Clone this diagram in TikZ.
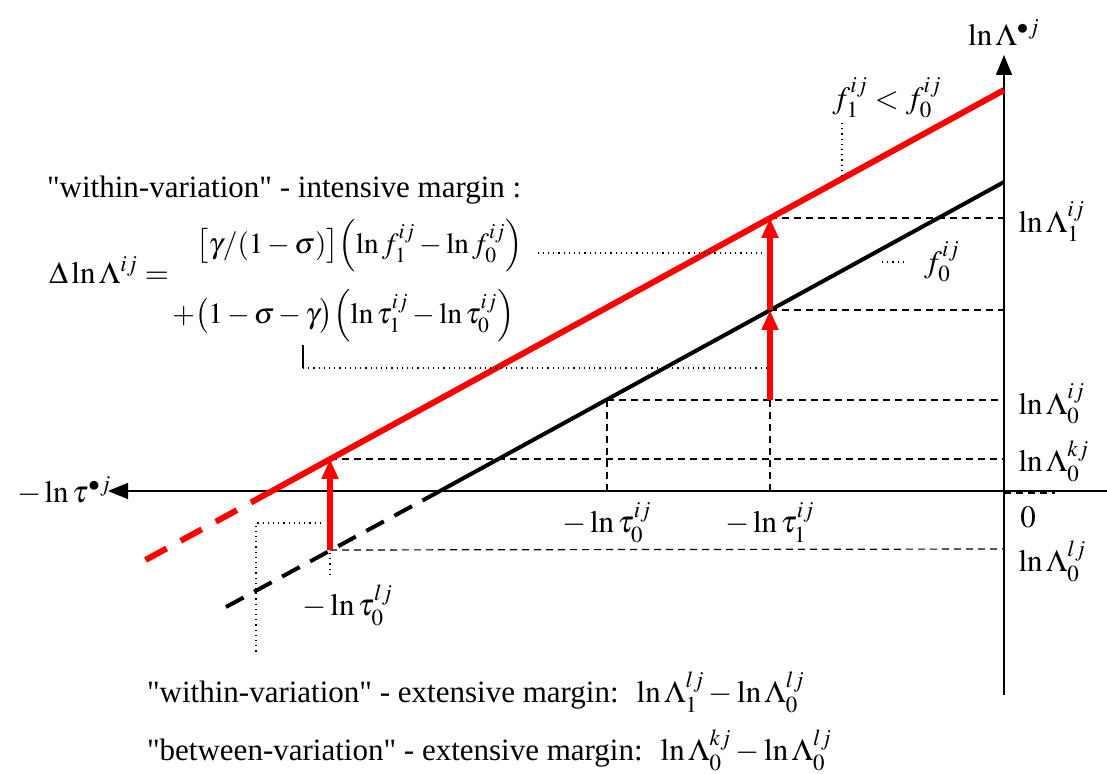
\documentclass[tikz,border=0pt]{standalone}
\usepackage{mathptmx}
\usepackage{fontspec}
\setmainfont{Liberation Serif}
\usetikzlibrary{arrows.meta,positioning}
\tikzset{
  axis/.style={line width=0.8pt,-{Triangle[length=10pt,width=8pt]}},
  redline/.style={red,line width=3pt},
  blackline/.style={black,line width=2pt},
  guide/.style={dash pattern=on 3.6pt off 2.4pt,line width=0.6pt},
  leader/.style={dotted,line width=0.6pt},
  shiftarrow/.style={red,line width=2.6pt,-{Triangle[length=10pt,width=8pt]}},
  lbl/.style={inner sep=1pt},
  term/.style={anchor=west,inner sep=1pt,font=\fontsize{14.6}{17}\selectfont}
}
\newcommand{\qt}[1]{\textquotedbl#1\textquotedbl}
\begin{document}
\begin{tikzpicture}[x=0.5pt,y=-0.5pt,font=\fontsize{15.5}{18}\selectfont]
\useasboundingbox (0,0) rectangle (1107,774);
% points of the two lines
\coordinate (R0) at (1004,90);
\coordinate (R1) at (770,218);
\coordinate (R2) at (330,459);
\coordinate (Rx) at (272,491);
\coordinate (Rend) at (140,563);
\coordinate (B0) at (1004,182);
\coordinate (B1) at (770,310);
\coordinate (B2) at (607,400);
\coordinate (T1) at (770,400);
\coordinate (Bx) at (440,491);
\coordinate (B3) at (330,550);
\coordinate (Bend) at (226,607);
\coordinate (O) at (1004,491);
% axes
\draw[axis] (1004,695) -- (1004,55) node[above=1pt](ylab){$\ln\Lambda^{\bullet j}$};
\draw[axis] (1107,491) -- (108,491) node[left=-3pt,lbl](xlab){$-\ln\tau^{\bullet j}$};
\draw[guide] (1004,493) -- (1055,493);
% guides
\draw[guide] (R1) -- (1004,218) node[right=6pt,lbl,yshift=-2pt](L1ij){$\ln\Lambda_1^{ij}$};
\draw[guide] (B1) -- (1004,310);
\draw[guide] (B2) -- (1004,400) node[right=6pt,lbl,yshift=-2pt](L0ij){$\ln\Lambda_0^{ij}$};
\draw[guide] (R2) -- (1004,459) node[right=6pt,lbl,yshift=-1pt](L0kj){$\ln\Lambda_0^{kj}$};
\draw[guide] (B3) -- (1004,549) node[right=6pt,lbl,yshift=-6pt](L0lj){$\ln\Lambda_0^{lj}$};
\draw[guide] (B2) -- (607,491) node[below=2pt](t0ij){$-\ln\tau_0^{ij}$};
\draw[guide] (T1) -- (770,491) node[below=2pt](t1ij){$-\ln\tau_1^{ij}$};
\node[lbl] (zero) at (1028,517) {$0$};
% the lines
\draw[redline] (R0) -- (Rx);
\draw[redline,dash pattern=on 12pt off 8pt] (Rx) -- (Rend);
\draw[blackline] (B0) -- (Bx);
\draw[blackline,dash pattern=on 10pt off 5.96pt] (Bx) -- (Bend);
% shifts
\draw[shiftarrow] (T1) -- (B1);
\draw[shiftarrow] (B1) -- (R1);
\draw[shiftarrow] (B3) -- (R2);
\draw[leader] (330,553) -- (330,575) node[below=1pt,xshift=9pt](t0lj){$-\ln\tau_0^{lj}$};
% labels of the lines
\node (fcmp) at (887,98) {$f_1^{ij}<f_0^{ij}$};
\draw[leader] (842,123) -- (842,176);
\node (f0) at (942,262) {$f_0^{ij}$};
\draw[leader] (882,262) -- (906,262);
% intensive margin
\node[anchor=west] (intm) at (40,190) {\qt{within-variation} - intensive margin :};
\node[anchor=west] (dlnL) at (42,270) {$\Delta\ln\Lambda^{ij}=$};
\node[term] (termf) at (194,246) {$\bigl[\gamma/(1-\sigma)\bigr]\Bigl(\ln f_1^{ij}-\ln f_0^{ij}\Bigr)$};
\node[term] (termt) at (170,316) {$+\bigl(1-\sigma-\gamma\bigr)\Bigl(\ln\tau_1^{ij}-\ln\tau_0^{ij}\Bigr)$};
\coordinate (tf) at (765,253);
\draw[leader] ([xshift=6pt]termf.east |- tf) -- (tf);
\draw[line width=0.8pt] (303,345) -- (303,368);
\draw[leader] (303,368) -- (770,368);
% extensive margin
\draw[leader] (321,523) -- (256,523) -- (256,655);
\node[anchor=west] (wext) at (140,692) {\qt{within-variation} - extensive margin: \ $\ln\Lambda_1^{lj}-\ln\Lambda_0^{lj}$};
\node[anchor=west] (bext) at (140,750) {\qt{between-variation} - extensive margin: \ $\ln\Lambda_0^{kj}-\ln\Lambda_0^{lj}$};
\end{tikzpicture}
\end{document}
